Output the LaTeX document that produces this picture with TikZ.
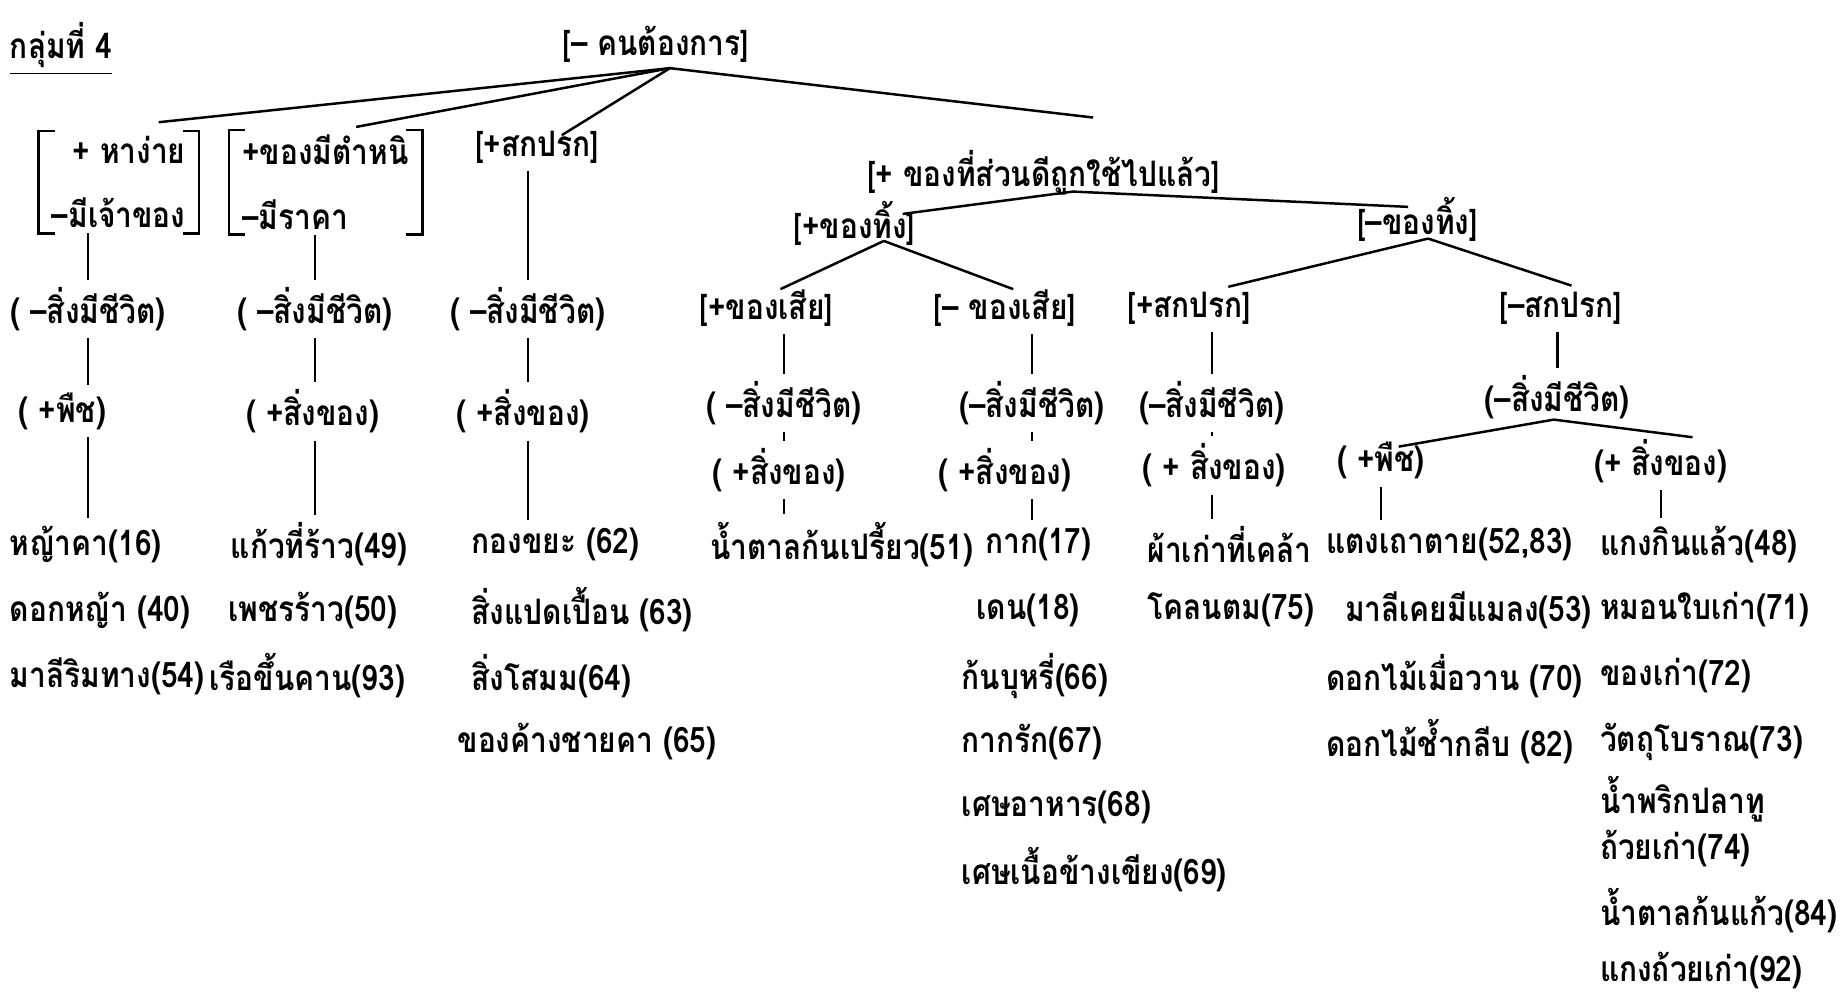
\documentclass[tikz,border=0pt]{standalone}
\usepackage{fontspec}
\setmainfont[Script=Thai,FakeStretch=0.85]{Loma}
\usetikzlibrary{positioning}

\begin{document}
\begin{tikzpicture}[x=0.01cm,y=-0.01cm,line width=.6pt,
  every node/.style={font=\fontsize{8.5}{10}\selectfont\bfseries,inner sep=1.5pt},
  twoline/.style={font=\fontsize{8.5}{15.5}\selectfont\bfseries,inner xsep=3pt,inner ysep=1pt},
  leaf/.style={anchor=west},
  leafr/.style={anchor=east}]
\useasboundingbox (0,0) rectangle (1568,846);
% top of the tree
\node (title) at (52,42) {\underline{กลุ่มที่ 4}};
\node (root) at (558,38) {[– คนต้องการ]};
\node[twoline,align=right] (hng) at (101,155) {+ หาง่าย\\–มีเจ้าของ};
\node[twoline,align=left] (tmn) at (277,155) {+ของมีตำหนิ\\–มีราคา\hspace{2.5em}};
\node (skp) at (457,125) {[+สกปรก]};
\node (suan) at (888,147) {[+ ของที่ส่วนดีถูกใช้ไปแล้ว]};
\draw ([xshift=4pt]hng.north west) -| (hng.south west) -- ++(4pt,0);
\draw ([xshift=-4pt]hng.north east) -| (hng.south east) -- ++(-4pt,0);
\draw ([xshift=4pt]tmn.north west) -| (tmn.south west) -- ++(4pt,0);
\draw ([xshift=-4pt]tmn.north east) -| (tmn.south east) -- ++(-4pt,0);
\coordinate (j0) at (570,58);
\coordinate (ea) at (135,104);
\coordinate (eb) at (303,108);
\coordinate (ec) at (478,115);
\coordinate (ed) at (930,100);
\draw (j0) -- (ea);
\draw (j0) -- (eb);
\draw (j0) -- (ec);
\draw (j0) -- (ed);
% second level
\node (thp) at (727,190) {[+ของทิ้ง]};
\node (thm) at (1206,187) {[–ของทิ้ง]};
\coordinate (j1) at (913,163);
\coordinate (ethp) at (768,182);
\coordinate (ethm) at (1198,176);
\draw (j1) -- (ethp);
\draw (j1) -- (ethm);
\node (sp) at (652,262) {[+ของเสีย]};
\node (sm) at (855,262) {[– ของเสีย]};
\node (kp) at (1012,262) {[+สกปรก]};
\node (km) at (1328,262) {[–สกปรก]};
\coordinate (j2) at (752,205);
\coordinate (j3) at (1215,203);
\coordinate (esp) at (664,246);
\coordinate (esm) at (862,246);
\coordinate (ekp) at (1045,244);
\coordinate (ekm) at (1337,243);
\draw (j2) -- (esp);
\draw (j2) -- (esm);
\draw (j3) -- (ekp);
\draw (j3) -- (ekm);
% features
\node (lv1) at (75,263) {( –สิ่งมีชีวิต)};
\node (lv2) at (268,263) {( –สิ่งมีชีวิต)};
\node (lv3) at (449,263) {( –สิ่งมีชีวิต)};
\node (lv4) at (667,343) {( –สิ่งมีชีวิต)};
\node (lv5) at (878,343) {(–สิ่งมีชีวิต)};
\node (lv6) at (1031,343) {(–สิ่งมีชีวิต)};
\node (lv7) at (1325,338) {(–สิ่งมีชีวิต)};
\node (pl1) at (53,350) {( +พืช)};
\node (ob2) at (266,350) {( +สิ่งของ)};
\node (ob3) at (445,350) {( +สิ่งของ)};
\node (ob4) at (663,400) {( +สิ่งของ)};
\node (ob5) at (855,400) {( +สิ่งของ)};
\node (ob6) at (1033,396) {( + สิ่งของ)};
\node (pl7) at (1175,392) {( +พืช)};
\node (ob8) at (1413,392) {(+ สิ่งของ)};
\coordinate (j4) at (1322,357);
\coordinate (epl) at (1190,380);
\coordinate (eob) at (1440,372);
\draw (j4) -- (epl);
\draw (j4) -- (eob);
% leaves
\node[leaf] (a1) at (2,463) {หญ้าคา(16)};
\node[leaf] (a2) at (2,519) {ดอกหญ้า (40)};
\node[leaf] (a3) at (2,575) {มาลีริมทาง(54)};
\node[leaf] (b1) at (190,463) {แก้วที่ร้าว(49)};
\node[leaf] (b2) at (188,519) {เพชรร้าว(50)};
\node[leaf] (b3) at (172,575) {เรือขึ้นคาน(93)};
\node[leaf] (c1) at (395,463) {กองขยะ (62)};
\node[leaf] (c2) at (395,519) {สิ่งแปดเปื้อน (63)};
\node[leaf] (c3) at (395,575) {สิ่งโสมม(64)};
\node[leaf] (c4) at (383,631) {ของค้างชายคา (65)};
\node[leaf] (d1) at (598,463) {น้ำตาลก้นเปรี้ยว(51)};
\node[leaf] (e1) at (832,463) {กาก(17)};
\node[leafr] (e2) at (925,519) {เดน(18)};
\node[leaf] (e3) at (812,575) {ก้นบุหรี่(66)};
\node[leaf] (e4) at (812,631) {กากรัก(67)};
\node[leaf] (e5) at (812,687) {เศษอาหาร(68)};
\node[leaf] (e6) at (812,740) {เศษเนื้อข้างเขียง(69)};
\node[leaf] (f1) at (970,463) {ผ้าเก่าที่เคล้า};
\node[leaf] (f2) at (970,519) {โคลนตม(75)};
\node[leaf] (g1) at (1122,463) {แตงเถาตาย(52,83)};
\node[leaf] (g2) at (1138,519) {มาลีเคยมีแมลง(53)};
\node[leaf] (g3) at (1122,575) {ดอกไม้เมื่อวาน (70)};
\node[leaf] (g4) at (1122,631) {ดอกไม้ช้ำกลีบ (82)};
\node[leaf] (h1) at (1355,463) {แกงกินแล้ว(48)};
\node[leaf] (h2) at (1355,519) {หมอนใบเก่า(71)};
\node[leaf] (h3) at (1355,575) {ของเก่า(72)};
\node[leaf] (h4) at (1355,631) {วัตถุโบราณ(73)};
\node[leaf] (h5) at (1355,680) {น้ำพริกปลาทู};
\node[leaf] (h6) at (1355,722) {ถ้วยเก่า(74)};
\node[leaf] (h7) at (1355,775) {น้ำตาลก้นแก้ว(84)};
\node[leaf] (h8) at (1355,826) {แกงถ้วยเก่า(92)};
% vertical links
\draw (lv1.north |- hng.south) -- (lv1.north);
\draw (lv1.south) -- (lv1.south |- pl1.north);
\draw (pl1.south -| lv1.south) -- (a1.north -| lv1.south);
\draw (lv2.north |- tmn.south) -- (lv2.north);
\draw (lv2.south) -- (lv2.south |- ob2.north);
\draw (ob2.south -| lv2.south) -- (b1.north -| lv2.south);
\draw (lv3.north |- skp.south) -- (lv3.north);
\draw (lv3.south) -- (lv3.south |- ob3.north);
\draw (ob3.south -| lv3.south) -- (c1.north -| lv3.south);
\draw (lv4.north |- sp.south) -- (lv4.north);
\draw (lv4.south) -- (lv4.south |- ob4.north);
\draw (ob4.south -| lv4.south) -- (d1.north -| lv4.south);
\draw (lv5.north |- sm.south) -- (lv5.north);
\draw (lv5.south) -- (lv5.south |- ob5.north);
\draw (ob5.south -| lv5.south) -- (e1.north -| lv5.south);
\draw (lv6.north |- kp.south) -- (lv6.north);
\draw (lv6.south) -- (lv6.south |- ob6.north);
\draw (ob6.south -| lv6.south) -- (f1.north -| lv6.south);
\draw (lv7.north |- km.south) -- (lv7.north);
\draw (pl7.south) -- (pl7.south |- g1.north);
\draw (ob8.south) -- (ob8.south |- h1.north);
\end{tikzpicture}
\end{document}
